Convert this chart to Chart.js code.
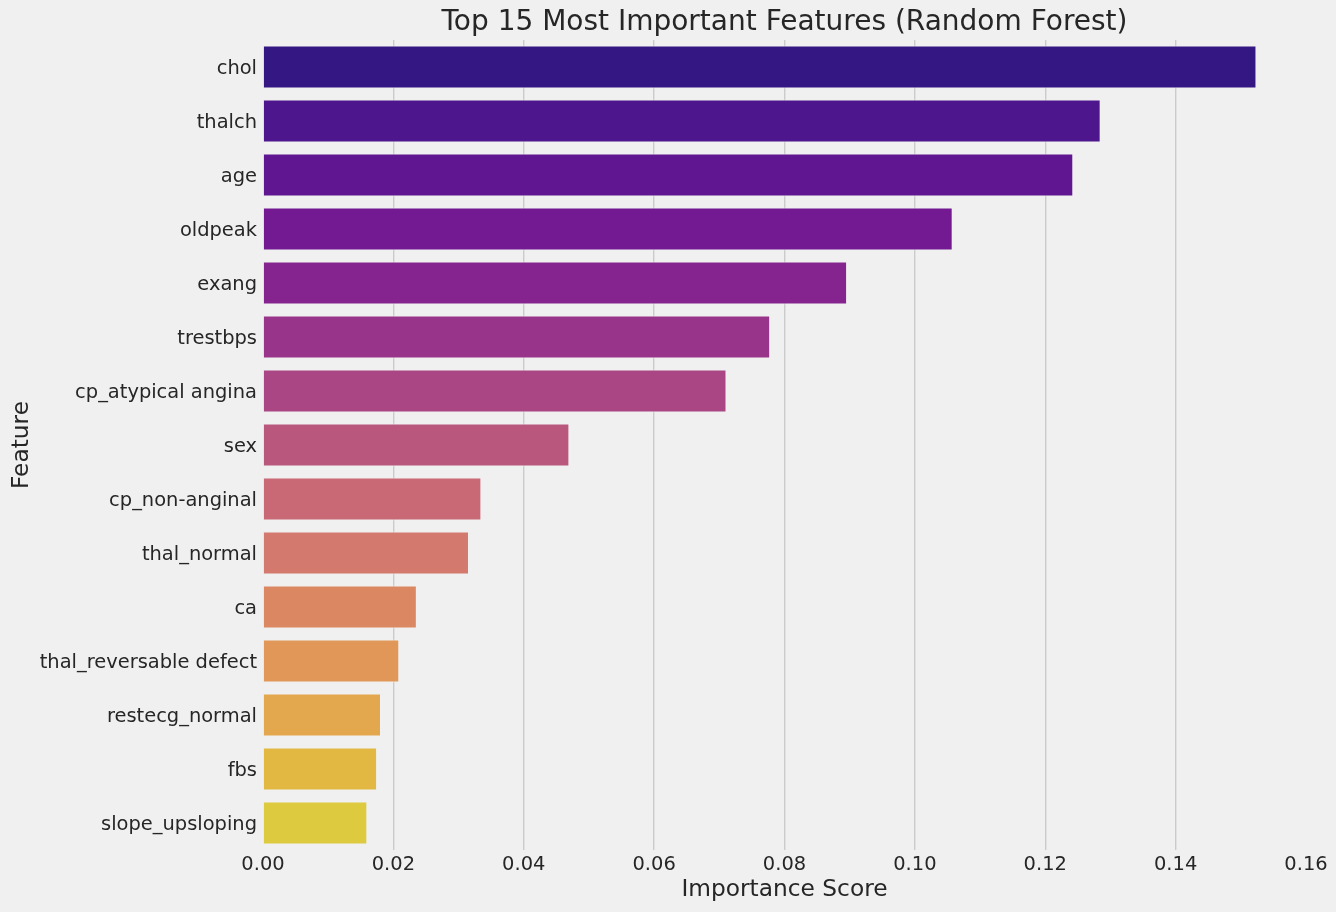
<!DOCTYPE html>
<html>
<head>
<meta charset="utf-8">
<script src="https://cdn.jsdelivr.net/npm/chart.js@4.4.0/dist/chart.umd.min.js"></script>
<style>
  html, body { margin: 0; padding: 0; background: #f0f0f0; }
  #wrap { width: 1336px; height: 912px; }
</style>
</head>
<body>
<div id="wrap"><canvas id="c" width="1336" height="912"></canvas></div>
<script>
// ---- data ----
const chartTitle = "Top 15 Most Important Features (Random Forest)";
const xAxisTitle = "Importance Score";
const yAxisTitle = "Feature";
const features = [
  "chol", "thalch", "age", "oldpeak", "exang", "trestbps", "cp_atypical angina",
  "sex", "cp_non-anginal", "thal_normal", "ca", "thal_reversable defect",
  "restecg_normal", "fbs", "slope_upsloping"
];
const importance = [
  0.1524, 0.1285, 0.1243, 0.1058, 0.0896, 0.0778, 0.0711,
  0.0470, 0.0335, 0.0316, 0.0236, 0.0209,
  0.0181, 0.0175, 0.0160
];
const xMin = 0, xMax = 0.16, xStep = 0.02;

// ---- styling: seaborn "plasma" palette, desaturated (saturation .75) ----
const plasmaStops = [
  [13,8,135],[70,3,159],[114,1,168],[156,23,158],[189,55,134],
  [216,87,107],[237,121,83],[251,159,58],[253,202,38],[240,249,33]
];
function plasmaAt(t) {
  const n = plasmaStops.length - 1;
  const p = Math.min(Math.max(t, 0), 1) * n;
  const i = Math.min(Math.floor(p), n - 1);
  const f = p - i;
  const a = plasmaStops[i], b = plasmaStops[i + 1];
  return [0,1,2].map(k => (a[k] + (b[k] - a[k]) * f) / 255);
}
function desaturate(rgb, prop) {
  const [r,g,b] = rgb;
  const mx = Math.max(r,g,b), mn = Math.min(r,g,b);
  const l = (mx + mn) / 2;
  if (mx === mn) return rgb;
  const d = mx - mn;
  const s = l < 0.5 ? d / (mx + mn) : d / (2 - mx - mn);
  const s2 = s * prop;
  const d2 = l < 0.5 ? s2 * (2 * l) : s2 * (2 - 2 * l);
  const mn2 = l - d2 / 2;
  return [r,g,b].map(v => mn2 + (v - mn) / d * d2);
}
function toCss(rgb) {
  return 'rgb(' + rgb.map(v => Math.round(v * 255)).join(',') + ')';
}
const barColors = features.map((_, i) => toCss(desaturate(plasmaAt((i + 1) / (features.length + 1)), 0.75)));

const textColor = '#262626';
const fontFamily = "'DejaVu Sans', sans-serif";

const titlePlugin = {
  id: 'axesTitle',
  afterDraw(chart) {
    const { ctx, chartArea } = chart;
    ctx.save();
    ctx.font = "28px " + fontFamily;
    ctx.fillStyle = textColor;
    ctx.textAlign = 'center';
    ctx.textBaseline = 'middle';
    ctx.fillText(chartTitle, (chartArea.left + chartArea.right) / 2, 23);
    ctx.restore();
  }
};

const bgPlugin = {
  id: 'bg',
  beforeDraw(chart) {
    const { ctx } = chart;
    ctx.save();
    ctx.fillStyle = '#f0f0f0';
    ctx.fillRect(0, 0, chart.width, chart.height);
    ctx.restore();
  }
};

new Chart(document.getElementById('c'), {
  type: 'bar',
  data: {
    labels: features,
    datasets: [{
      data: importance,
      backgroundColor: barColors,
      borderColor: '#f0f0f0',
      borderWidth: 1,
      barPercentage: 0.8,
      categoryPercentage: 1.0
    }]
  },
  options: {
    indexAxis: 'y',
    responsive: false,
    devicePixelRatio: 1,
    animation: false,
    layout: { padding: { top: 40, right: 30, left: 0, bottom: 0 } },
    plugins: {
      legend: { display: false },
      title: { display: false },
      tooltip: { enabled: false }
    },
    scales: {
      x: {
        min: xMin, max: xMax,
        ticks: {
          stepSize: xStep,
          callback: v => Number(v).toFixed(2),
          font: { family: fontFamily, size: 19.44 },
          color: textColor,
          padding: 3
        },
        grid: {
          color: ctx => (ctx.tick && (ctx.tick.value <= xMin + 1e-9 || ctx.tick.value >= xMax - 1e-9)) ? 'rgba(0,0,0,0)' : '#cbcbcb',
          lineWidth: 1.4,
          drawTicks: false
        },
        border: { display: false },
        title: {
          display: true, text: xAxisTitle, color: textColor,
          font: { family: fontFamily, size: 23.3 },
          padding: { top: 0, bottom: 8 }
        },
        afterFit: s => { s.height = 62; }
      },
      y: {
        ticks: {
          font: { family: fontFamily, size: 19.44 },
          color: textColor,
          padding: 6,
          labelOffset: 2
        },
        grid: { display: false, drawTicks: false },
        border: { display: false },
        title: {
          display: true, text: yAxisTitle, color: textColor,
          font: { family: fontFamily, size: 23.3 },
          padding: { top: 8, bottom: 0 }
        },
        afterFit: s => { s.width = 263; }
      }
    }
  },
  plugins: [bgPlugin, titlePlugin]
});
</script>
</body>
</html>
